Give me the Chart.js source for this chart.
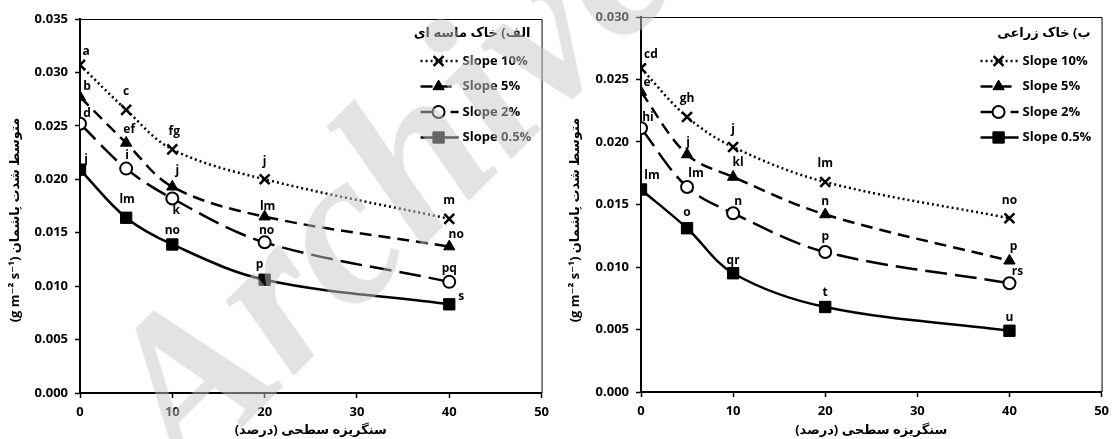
<!DOCTYPE html>
<html>
<head>
<meta charset="utf-8">
<script src="https://cdn.jsdelivr.net/npm/chart.js@4.4.0/dist/chart.umd.min.js"></script>
<style>
    body { margin: 0; background: #fff; width: 1115px; height: 439px; overflow: hidden; position: relative; }
    .panel { position: absolute; top: 0; height: 439px; }
    #panel-a { left: 0; width: 555px; }
    #panel-b { left: 555px; width: 560px; }
    #wm {
        position: absolute; left: 385px; top: 180px;
        transform: translate(-50%, -50%) rotate(-45deg);
        font: italic bold 220px "Liberation Serif", serif;
        color: rgba(200, 200, 200, 0.5);
        line-height: 1; white-space: nowrap; pointer-events: none;
    }
</style>
</head>
<body>
<div class="panel" id="panel-a"><canvas id="chart-a"></canvas></div>
<div class="panel" id="panel-b"><canvas id="chart-b"></canvas></div>
<div id="wm">Archive</div>
<script>
// درصد سنگریزه سطحی
const gravel = [0, 5, 10, 20, 40];
const seriesNames = ['Slope 10%', 'Slope 5%', 'Slope 2%', 'Slope 0.5%'];

// الف) خاک ماسه ای
const sandy10 = [0.0307, 0.0265, 0.0228, 0.0200, 0.0163];
const sandy5 = [0.0277, 0.0234, 0.0193, 0.0165, 0.0137];
const sandy2 = [0.0252, 0.0210, 0.0182, 0.0141, 0.0104];
const sandy05 = [0.0209, 0.0164, 0.0139, 0.0106, 0.0083];
const sandyLetters10 = ['a', 'c', 'fg', 'j', 'm'];
const sandyLetters5 = ['b', 'ef', 'j', 'lm', 'no'];
const sandyLetters2 = ['d', 'i', 'k', 'no', 'pq'];
const sandyLetters05 = ['j', 'lm', 'no', 'p', 's'];

// ب) خاک زراعی
const farm10 = [0.0259, 0.0220, 0.0196, 0.0168, 0.0139];
const farm5 = [0.0240, 0.0190, 0.0172, 0.0142, 0.0105];
const farm2 = [0.0211, 0.0164, 0.0143, 0.0112, 0.0087];
const farm05 = [0.0162, 0.0131, 0.0095, 0.0068, 0.0049];
const farmLetters10 = ['cd', 'gh', 'j', 'lm', 'no'];
const farmLetters5 = ['e', 'j', 'kl', 'n', 'p'];
const farmLetters2 = ['hi', 'lm', 'n', 'p', 'rs'];
const farmLetters05 = ['lm', 'o', 'qr', 't', 'u'];

const xTicks = [0, 10, 20, 30, 40, 50];

// استایل هر سری (خط و نشانگر)
const styles = [
    { dash: [2, 3], point: 'crossRot', radius: 7, fill: '#000', pw: 2.5 },
    { dash: [12, 7], point: 'triangle', radius: 6.5, fill: '#000', pw: 1 },
    { dash: [22, 8], point: 'circle', radius: 6, fill: '#fff', pw: 2 },
    { dash: [], point: 'rect', radius: 8, fill: '#000', pw: 1 }
];

// جابجایی حروف نسبت به نقطه
const sandyOffsets = [
    [[6, -13], [0, -18], [2, -18], [0, -18], [0, -18]],
    [[7, -10], [3, -13], [5, -16], [3, -10], [7, -12]],
    [[7, -10], [1, -13], [4, 12], [2, -12], [0, -13]],
    [[6, -10], [1, -18], [0, -14], [-5, -15], [12, -8]]
];
const farmOffsets = [
    [[10, -14], [0, -18], [0, -17], [0, -18], [0, -18]],
    [[6, -9], [1, -12], [5, -14], [0, -13], [4, -14]],
    [[7, -11], [9, -13], [5, -12], [0, -15], [8, -12]],
    [[11, -14], [0, -16], [0, -13], [0, -14], [0, -13]]
];

const FONT = '"Open Sans", "DejaVu Sans", sans-serif';

function drawMarker(ctx, st, x, y) {
    const r = st.radius;
    ctx.save();
    ctx.setLineDash([]);
    ctx.fillStyle = st.fill;
    ctx.strokeStyle = '#000';
    ctx.lineWidth = st.pw;
    ctx.beginPath();
    if (st.point === 'crossRot') {
        const d = r * Math.SQRT1_2;
        ctx.moveTo(x - d, y - d); ctx.lineTo(x + d, y + d);
        ctx.moveTo(x - d, y + d); ctx.lineTo(x + d, y - d);
        ctx.stroke();
    } else if (st.point === 'triangle') {
        const h = r * Math.sqrt(3) / 2;
        ctx.moveTo(x, y - r); ctx.lineTo(x + h, y + r / 2); ctx.lineTo(x - h, y + r / 2);
        ctx.closePath(); ctx.fill(); ctx.stroke();
    } else if (st.point === 'circle') {
        ctx.arc(x, y, r, 0, Math.PI * 2);
        ctx.fill(); ctx.stroke();
    } else {
        const s = r * Math.SQRT1_2;
        ctx.rect(x - s, y - s, 2 * s, 2 * s);
        ctx.fill(); ctx.stroke();
    }
    ctx.restore();
}

const extrasPlugin = {
    id: 'extras',
    afterDraw(chart, args, opts) {
        const ctx = chart.ctx;
        const a = chart.chartArea;
        ctx.save();
        // قاب بالا و راست
        ctx.strokeStyle = '#000';
        ctx.lineWidth = 1;
        ctx.beginPath();
        ctx.moveTo(a.left, a.top + 0.5); ctx.lineTo(a.right + 0.5, a.top + 0.5); ctx.lineTo(a.right + 0.5, a.bottom);
        ctx.stroke();

        // حروف معنی داری
        ctx.fillStyle = '#000';
        ctx.font = 'bold 12px ' + FONT;
        ctx.textAlign = 'center';
        ctx.textBaseline = 'middle';
        chart.data.datasets.forEach((ds, i) => {
            chart.getDatasetMeta(i).data.forEach((pt, j) => {
                const off = opts.offsets[i][j];
                ctx.fillText(opts.letters[i][j], pt.x + off[0], pt.y + off[1]);
            });
        });

        // راهنما
        const tx = a.right - 79;
        ctx.font = 'bold 13px ' + FONT;
        ctx.textAlign = 'right';
        ctx.fillText(opts.title, a.right - 11, 33);
        ctx.textAlign = 'left';
        chart.data.datasets.forEach((ds, i) => {
            const y = 61 + i * 25.5;
            const st = styles[i];
            ctx.save();
            ctx.strokeStyle = '#000';
            ctx.lineWidth = 2.5;
            ctx.setLineDash(st.dash);
            ctx.beginPath();
            ctx.moveTo(tx - 42, y); ctx.lineTo(tx - 4, y);
            ctx.stroke();
            ctx.restore();
            drawMarker(ctx, st, tx - 24, y);
            ctx.fillText(ds.label, tx, y);
        });

        // عنوان محورها
        ctx.font = 'bold 13px ' + FONT;
        ctx.textAlign = 'center';
        ctx.fillText('سنگریزه سطحی (درصد)', (a.left + a.right) / 2, 430);
        ctx.translate(opts.yTitleX, 220);
        ctx.rotate(-Math.PI / 2);
        ctx.fillText('(g m⁻² s⁻¹) متوسط شدت پاشمان', 0, 0);
        ctx.restore();
    }
};

function makeChart(id, series, letters, offsets, title, yMax, padTop, yWidth, xHeight, yTitleX) {
    const datasets = series.map((vals, i) => ({
        label: seriesNames[i],
        data: vals.map((v, j) => ({ x: gravel[j], y: v })),
        borderColor: '#000',
        borderWidth: 2.5,
        borderDash: styles[i].dash,
        tension: 0.35,
        fill: false,
        pointStyle: styles[i].point,
        pointRadius: styles[i].radius,
        pointBackgroundColor: styles[i].fill,
        pointBorderColor: '#000',
        pointBorderWidth: styles[i].pw
    }));
    const tickFont = { family: FONT, size: 13, weight: 'bold' };
    return new Chart(document.getElementById(id), {
        type: 'line',
        data: { datasets },
        options: {
            responsive: true,
            maintainAspectRatio: false,
            animation: false,
            layout: { padding: { top: padTop, right: 9, left: 0, bottom: 0 } },
            plugins: {
                legend: { display: false },
                tooltip: { enabled: false },
                extras: { letters, offsets, title, yTitleX }
            },
            scales: {
                x: {
                    type: 'linear', min: 0, max: 50,
                    afterBuildTicks: s => { s.ticks = xTicks.map(v => ({ value: v })); },
                    afterFit: s => { s.height = xHeight; },
                    border: { display: true, color: '#000', width: 2 },
                    grid: { drawOnChartArea: false, drawTicks: true, tickLength: 5, tickColor: '#000', tickWidth: 1.5 },
                    ticks: { color: '#000', font: tickFont, padding: 6, maxRotation: 0 }
                },
                y: {
                    min: 0, max: yMax,
                    ticks: {
                        stepSize: 0.005, color: '#000', font: tickFont, padding: 7,
                        callback: v => v.toFixed(3)
                    },
                    afterFit: s => { s.width = yWidth; },
                    border: { display: true, color: '#000', width: 2 },
                    grid: { drawOnChartArea: false, drawTicks: true, tickLength: 5, tickColor: '#000', tickWidth: 1.5 }
                }
            }
        },
        plugins: [extrasPlugin]
    });
}

makeChart('chart-a', [sandy10, sandy5, sandy2, sandy05],
    [sandyLetters10, sandyLetters5, sandyLetters2, sandyLetters05], sandyOffsets,
    'الف) خاک ماسه ای', 0.035, 19, 80, 46, 15);
makeChart('chart-b', [farm10, farm5, farm2, farm05],
    [farmLetters10, farmLetters5, farmLetters2, farmLetters05], farmOffsets,
    'ب) خاک زراعی', 0.030, 17, 86, 47, 20);
</script>
</body>
</html>
